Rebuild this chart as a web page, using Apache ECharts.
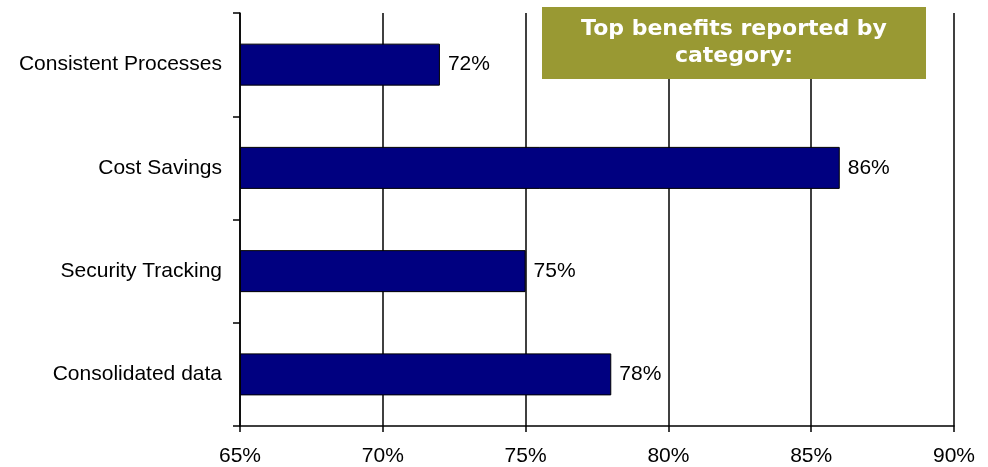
<!DOCTYPE html>
<html>
<head>
<meta charset="utf-8">
<script src="https://cdn.jsdelivr.net/npm/echarts@6/dist/echarts.min.js"></script>
<style>html,body{margin:0;padding:0;background:#fff;}#c{width:988px;height:467px;}</style>
</head>
<body>
<div id="c"></div>
<script>
// categories listed bottom-to-top (ECharts category y axis starts at the bottom)
const categories = ['Consolidated data', 'Security Tracking', 'Cost Savings', 'Consistent Processes'];
const values = [78, 75, 86, 72];
const xMin = 65, xMax = 90, xStep = 5;
const titleLines = ['Top benefits reported by', 'category:'];

const FONT = '"Liberation Sans", Arial, sans-serif';
const chart = echarts.init(document.getElementById('c'), null, {renderer: 'canvas'});
chart.setOption({
  animation: false,
  backgroundColor: '#ffffff',
  grid: {left: 240, right: 34, top: 13, bottom: 40, containLabel: false},
  xAxis: {
    type: 'value', min: xMin, max: xMax, interval: xStep, startValue: xMin,
    axisLine: {show: true, lineStyle: {color: '#000', width: 1.5}},
    axisTick: {show: true, length: 6, lineStyle: {color: '#000', width: 1.5}},
    axisLabel: {formatter: '{value}%', color: '#000', fontSize: 21, fontFamily: FONT, margin: 20},
    splitLine: {show: true, lineStyle: {color: '#000', width: 1.5}}
  },
  yAxis: {
    type: 'category', data: categories,
    axisLine: {show: true, lineStyle: {color: '#000', width: 1.5}},
    axisTick: {show: true, length: 7, inside: false, lineStyle: {color: '#000', width: 1.5}},
    axisLabel: {color: '#000', fontSize: 21, fontFamily: FONT, margin: 18},
    splitLine: {show: false}
  },
  series: [{
    type: 'bar', data: values, barWidth: 42,
    itemStyle: {color: '#000080', borderColor: '#000', borderWidth: 1},
    label: {show: true, position: 'right', distance: 8, formatter: '{c}%', color: '#000', fontSize: 21, fontFamily: FONT}
  }],
  graphic: [
    {type: 'rect', left: 542, top: 7, z: 100, zlevel: 1,
     shape: {width: 384, height: 72}, style: {fill: '#999933'}},
    {type: 'text', x: 734, y: 43, z: 101, zlevel: 1, style: {
      text: titleLines.join('\n'), fill: '#fff', font: 'bold 22px "DejaVu Sans", Verdana, sans-serif',
      align: 'center', verticalAlign: 'middle', lineHeight: 27
    }}
  ]
});
</script>
</body>
</html>
